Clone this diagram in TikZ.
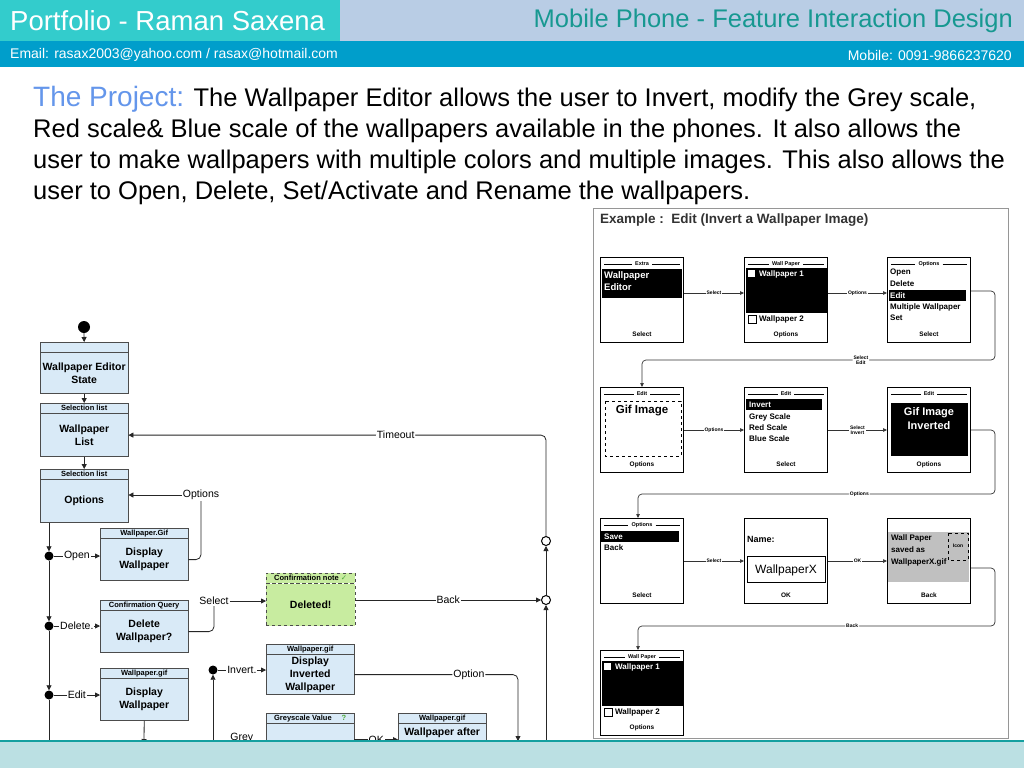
\documentclass[tikz,border=0pt]{standalone}
\usepackage{fontspec}
\setmainfont{Liberation Sans}
\newfontfamily\symfont{DejaVu Sans}
\usetikzlibrary{arrows.meta, positioning, calc}

\definecolor{hdrteal}{RGB}{51,204,204}
\definecolor{hdrgrey}{RGB}{185,205,229}
\definecolor{hdrblue}{RGB}{0,158,203}
\definecolor{titleteal}{RGB}{23,152,145}
\definecolor{projblue}{RGB}{100,150,235}
\definecolor{statefill}{RGB}{217,234,247}
\definecolor{notefill}{RGB}{200,236,160}
\definecolor{notegreen}{RGB}{80,170,60}
\definecolor{stripfill}{RGB}{187,224,227}
\definecolor{stripline}{RGB}{20,160,160}
\definecolor{panelgrey}{RGB}{150,150,150}
\definecolor{savedgrey}{RGB}{192,192,192}

\begin{document}
\begin{tikzpicture}[
x=1pt, y=-1pt,
conn/.style={draw=black!85, line width=0.8pt},
arr/.style={conn, -{Triangle[length=5pt,width=5pt]}},
statehdr/.style={draw=black!70, fill=statefill, minimum width=88pt, minimum height=10pt, inner sep=0pt, anchor=north west, font=\bfseries\fontsize{7.5}{8}\selectfont},
statebody/.style={draw=black!70, fill=statefill, minimum width=88pt, minimum height=42pt, inner sep=1pt, align=center, font=\bfseries\fontsize{10.5}{13}\selectfont},
lbl/.style={fill=white, inner sep=1pt, font=\fontsize{10.5}{12}\selectfont},
jdot/.style={circle, fill=black, minimum size=9pt, inner sep=0pt},
hcirc/.style={circle, draw=black, fill=white, line width=1pt, minimum size=9pt, inner sep=0pt},
phone/.style={draw=black, line width=1pt, minimum width=83pt, minimum height=85pt, inner sep=0pt, anchor=north west},
ptitle/.style={inner sep=1pt, font=\bfseries\fontsize{5.5}{6}\selectfont},
pkey/.style={inner sep=0pt, font=\bfseries\fontsize{6.5}{7}\selectfont},
pitem/.style={inner sep=0pt, anchor=west, font=\bfseries\fontsize{8}{9}\selectfont},
parr/.style={draw=black!80, line width=0.7pt, -{Triangle[length=4pt,width=3.5pt]}},
plbl/.style={fill=white, inner sep=1pt, align=center, font=\bfseries\fontsize{5}{5.5}\selectfont}
]
\useasboundingbox (0,0) rectangle (1024,768);
\fill[white] (0,0) rectangle (1024,768);

% header bars
\fill[hdrteal] (0,0) rectangle (340,41);
\fill[hdrgrey] (340,0) rectangle (1024,41);
\fill[hdrblue] (0,41) rectangle (1024,67);
\node[anchor=west, inner sep=0pt, text=white, font=\fontsize{27.5}{30}\selectfont] (portf) at (10,21) {Portfolio - Raman Saxena};
\node[anchor=east, inner sep=0pt, text=titleteal, font=\fontsize{25.5}{28}\selectfont] (ftitle) at (1013,21) {Mobile Phone - Feature Interaction Design};
\node[anchor=west, inner sep=0pt, text=white, font=\fontsize{14}{16}\selectfont] (email) at (10,55) {Email: rasax2003@yahoo.com / rasax@hotmail.com};
\node[anchor=east, inner sep=0pt, text=white, font=\fontsize{14}{16}\selectfont] (mobile) at (1012,55) {Mobile: 0091-9866237620};

% project text
\node[anchor=north west, inner sep=0pt, align=left, font=\fontsize{25.5}{31}\selectfont] (proj) at (33,86)
{{\color{projblue}\fontsize{28}{31}\selectfont The Project:} The Wallpaper Editor allows the user to Invert, modify the Grey scale,\\
Red scale\& Blue scale of the wallpapers available in the phones. It also allows the\\
user to make wallpapers with multiple colors and multiple images. This also allows the\\
user to Open, Delete, Set/Activate and Rename the wallpapers.};

% state boxes
\node[circle, fill=black, minimum size=12pt, inner sep=0pt] (start) at (84,327) {};
\node[statehdr] (b1h) at (40,342) {};
\node[statebody, below=0pt of b1h, minimum height=41pt] (b1b) {Wallpaper Editor\\State};
\node[statehdr] (b2h) at (40,403) {Selection list};
\node[statebody, below=0pt of b2h, minimum height=43pt] (b2b) {Wallpaper\\List};
\node[statehdr] (b3h) at (40,469) {Selection list};
\node[statebody, below=0pt of b3h, minimum height=43pt] (b3b) {Options};
\node[statehdr] (b4h) at (100,528) {Wallpaper.Gif};
\node[statebody, below=0pt of b4h] (b4b) {Display\\Wallpaper};
\node[statehdr] (b5h) at (100,600) {Confirmation Query};
\node[statebody, below=0pt of b5h] (b5b) {Delete\\Wallpaper?};
\node[statehdr, fill=notefill, dashed, minimum width=89pt] (b6h) at (266,573) {Confirmation note {\symfont\color{notegreen}✓}};
\node[statebody, below=0pt of b6h, fill=notefill, dashed, minimum width=89pt] (b6b) {Deleted!};
\node[statehdr] (b7h) at (100,668) {Wallpaper.gif};
\node[statebody, below=0pt of b7h] (b7b) {Display\\Wallpaper};
\node[statehdr] (b8h) at (266,644) {Wallpaper.gif};
\node[statebody, below=0pt of b8h, minimum height=40pt] (b8b) {Display\\Inverted\\Wallpaper};
\node[statehdr] (b9h) at (266,713) {Greyscale Value\hspace{10pt}{\color{notegreen}?}};
\node[statebody, below=0pt of b9h, minimum height=40pt] (b9b) {};
\node[statehdr] (b10h) at (398,713) {Wallpaper.gif};
\node[statebody, below=0pt of b10h, minimum height=40pt, text depth=24pt] (b10b) {Wallpaper after};

% connectors
\draw[arr] (start) -- (b1h);
\draw[arr] (b1b) -- (b2h);
\draw[arr] (b2b) -- (b3h);
\node[jdot] (jopen) at (49,556) {};
\node[jdot] (jdel) at (49,626) {};
\node[jdot] (jedit) at (49,695) {};
\coordinate (lbot) at (49,760);
\draw[arr] (b3b.south -| jopen) -- (jopen);
\draw[arr] (jopen) -- (jdel);
\draw[arr] (jdel) -- (jedit);
\draw[conn] (jedit) -- (lbot);
\draw[arr] (jopen) -- node[lbl]{Open} (jopen -| b4b.west);
\draw[arr] (jdel) -- node[lbl]{Delete.} (jdel -| b5b.west);
\draw[arr] (jedit) -- node[lbl]{Edit} (jedit -| b7b.west);

\node[lbl] (optl) at (201,495) {Options};
\draw[conn, rounded corners=5pt] (b4b.east) -| (optl.south);
\draw[arr] (optl.west) -- (optl.west -| b3b.east);
\node[lbl] (sell) at (214,601) {Select};
\draw[conn, rounded corners=5pt] (b5b.east) -| (sell.south);
\draw[arr] (sell.east) -- (sell.east -| b6b.west);

\node[hcirc] (cback) at (546,600) {};
\node[hcirc] (ctime) at (546,541) {};
\coordinate (rbot) at (546,760);
\draw[arr] (cback -| b6b.east) -- node[lbl]{Back} (cback);
\draw[arr] (rbot) -- (cback);
\draw[arr] (cback) -- (ctime);
\draw[arr, rounded corners=5pt] (ctime) |- node[lbl, pos=0.68]{Timeout} (b2b.east);

\node[jdot] (jinv) at (213,670) {};
\node[jdot] (jgrey) at (213,745) {};
\coordinate (mbot) at (213,760);
\draw[conn] (mbot) -- (jgrey);
\draw[arr] (jgrey) -- (jinv);
\draw[arr] (jinv) -- node[lbl]{Invert.} (jinv -| b8b.west);
\draw[arr] (jgrey) -- node[lbl, above=1pt]{Grey} (jgrey -| b9b.west);
\node[hcirc] (copt) at (518,746) {};
\draw[arr, rounded corners=5pt] (b8b.east) -| node[lbl, pos=0.35]{Option} (copt);
\draw[arr] ([yshift=4pt]b9b.east) -- node[lbl]{OK} ([yshift=4pt]b10b.west);
\coordinate (b7out) at (144,744);
\draw[arr] (b7b.south) -- (b7out);

% example panel
\draw[panelgrey, fill=white, line width=0.8pt] (593,208) rectangle (1008,738);
\node[anchor=west, inner sep=0pt, text=black!80, font=\bfseries\fontsize{13.5}{14}\selectfont] (extitle) at (600,220) {Example :\ \ Edit (Invert a Wallpaper Image)};

\node[phone] (s1) at (600,257) {};
\node[phone] (s2) at (744,257) {};
\node[phone] (s3) at (887,257) {};
\node[phone] (s4) at (600,387) {};
\node[phone] (s5) at (744,387) {};
\node[phone] (s6) at (887,387) {};
\node[phone] (s7) at (600,518) {};
\node[phone] (s8) at (744,518) {};
\node[phone] (s9) at (887,518) {};
\node[phone] (s10) at (600,650) {};

\foreach \s/\t in {s1/Extra, s2/Wall Paper, s3/Options, s4/Edit, s5/Edit, s6/Edit, s7/Options, s10/Wall Paper} {
  \node[ptitle] (t\s) at ($(\s.north)+(0,7)$) {\t};
  \draw[line width=0.6pt] ($(\s.north west)+(4,7)$) -- ($(t\s.west)+(-2,0)$);
  \draw[line width=0.6pt] ($(t\s.east)+(2,0)$) -- ($(\s.north east)+(-4,7)$);
}
\foreach \s/\k in {s1/Select, s2/Options, s3/Select, s4/Options, s5/Select, s6/Options, s7/Select, s8/OK, s9/Back, s10/Options}
  \node[pkey] (k\s) at ($(\s.south)+(0,-8.5)$) {\k};

% screen contents
\fill[black] (602,269) rectangle (682,298);
\node[anchor=north west, inner sep=0pt, align=left, text=white, font=\bfseries\fontsize{9.5}{12}\selectfont] (wed) at (604,271) {Wallpaper\\Editor};
\foreach \s in {s2, s10} {
  \fill[black] ($(\s.north west)+(2,11)$) rectangle ($(\s.north east)+(-1,56)$);
  \fill[white] ($(\s.north west)+(4,13)$) rectangle ($(\s.north west)+(11,20)$);
  \node[pitem, text=white] at ($(\s.north west)+(15,17)$) {Wallpaper 1};
  \draw[line width=0.6pt] ($(\s.north west)+(4,58)$) rectangle ($(\s.north west)+(12,66)$);
  \node[pitem] at ($(\s.north west)+(15,62)$) {Wallpaper 2};
}
\fill[black] (889,290) rectangle (966,301);
\node[pitem] at (890,273) {Open};
\node[pitem] at (890,284) {Delete};
\node[pitem, text=white] at (890,296) {Edit};
\node[pitem] at (890,307) {Multiple Wallpaper};
\node[pitem] at (890,318) {Set};

\draw[dashed, line width=0.6pt] (605,401) rectangle (681,456);
\node[font=\bfseries\fontsize{11.5}{13}\selectfont, inner sep=0pt] (gif) at (642,411) {Gif Image};

\fill[black] (746,399) rectangle (822,410);
\node[pitem, text=white] at (749,405) {Invert};
\node[pitem] at (749,417) {Grey Scale};
\node[pitem] at (749,428) {Red Scale};
\node[pitem] at (749,439) {Blue Scale};

\fill[black] (891,403) rectangle (968,456);
\node[align=center, inner sep=0pt, text=white, font=\bfseries\fontsize{11}{14}\selectfont] (gifinv) at (929,419) {Gif Image\\Inverted};

\fill[black] (601,531) rectangle (679,542);
\node[pitem, text=white] at (604,537) {Save};
\node[pitem] at (604,548) {Back};

\node[pitem, font=\bfseries\fontsize{9}{10}\selectfont] at (747,539) {Name:};
\draw[line width=0.7pt] (747,556) rectangle (825,582);
\node[inner sep=0pt, font=\fontsize{12}{13}\selectfont] (wx) at (786,570) {WallpaperX};

\fill[savedgrey] (888,532) rectangle (969,582);
\draw[dashed, line width=0.5pt, fill=savedgrey] (948,533) rectangle (968,560);
\node[inner sep=0pt, font=\bfseries\fontsize{5}{6}\selectfont] (icon) at (958,546) {Icon};
\node[anchor=north west, inner sep=0pt, align=left, font=\bfseries\fontsize{8}{12}\selectfont] (saved) at (891,534) {Wall Paper\\saved as\\WallpaperX.gif};

% screen flow
\draw[parr] ([yshift=7pt]s1.east) -- node[plbl]{Select} ([yshift=7pt]s2.west);
\draw[parr] ([yshift=7pt]s2.east) -- node[plbl]{Options} ([yshift=7pt]s3.west);
\coordinate (r1) at (995,360);
\draw[parr, rounded corners=4pt] ([yshift=9pt]s3.east) -| (r1) -| node[plbl, pos=0.19]{Select\\Edit} (s4.north);
\draw[parr] (s4) -- node[plbl]{Options} (s5);
\draw[parr] (s5) -- node[plbl]{Select\\Invert} (s6);
\coordinate (r2) at (995,494);
\draw[parr, rounded corners=4pt] (s6.east) -| (r2) -| node[plbl, pos=0.19]{Options} ([xshift=-4pt]s7.north);
\draw[parr] (s7) -- node[plbl]{Select} (s8);
\draw[parr] (s8) -- node[plbl]{OK} (s9);
\coordinate (r3) at (995,626);
\draw[parr, rounded corners=4pt] ([yshift=-7pt]s9.east) -| (r3) -| node[plbl, pos=0.2]{Back} ([xshift=-4pt]s10.north);

% bottom strip
\fill[stripfill] (0,741) rectangle (1024,768);
\draw[stripline, line width=2pt] (0,741) -- (1024,741);
\end{tikzpicture}
\end{document}
